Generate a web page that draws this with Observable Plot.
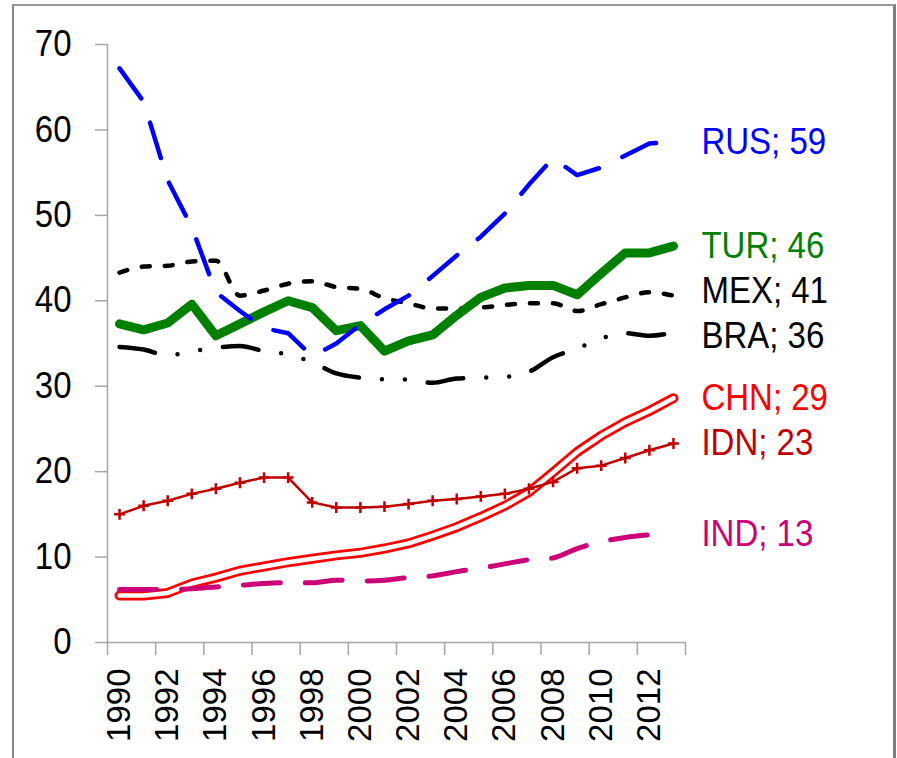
<!DOCTYPE html>
<html>
<head>
<meta charset="utf-8">
<script src="https://cdn.jsdelivr.net/npm/d3@7"></script>
<script src="https://cdn.jsdelivr.net/npm/@observablehq/plot@0.6"></script>
<style>
  html, body { margin: 0; padding: 0; background: #fff; overflow: hidden; }
  #wrap { position: relative; width: 897px; height: 758px; }
  #border { position: absolute; left: 12px; top: 4px; width: 879px; height: 800px;
    border-left: 2px solid #888; border-top: 2px solid #999; border-right: 3px solid #808080; }
  #chart { position: absolute; left: 0; top: 0; }
</style>
</head>
<body>
<div id="wrap"><div id="border"></div><div id="chart"></div></div>
<script>
const years = [1990,1991,1992,1993,1994,1995,1996,1997,1998,1999,2000,2001,2002,2003,2004,2005,2006,2007,2008,2009,2010,2011,2012,2013];
const yTicks = [0,10,20,30,40,50,60,70];
const xTickLabels = [1990,1992,1994,1996,1998,2000,2002,2004,2006,2008,2010,2012];

const rus = [67.2,63.3,54.1,48.6,41.0,38.8,36.8,36.2,33.5,35.0,37.2,39.0,40.6,42.9,45.3,47.5,50.2,53.6,56.7,54.7,55.6,57.0,58.4,58.6];
const tur = [37.3,36.6,37.4,39.6,35.9,37.3,38.7,40.0,39.2,36.5,37.1,34.1,35.3,36.0,38.3,40.4,41.5,41.8,41.8,40.7,43.2,45.6,45.6,46.4];
const mex = [43.3,44.0,44.1,44.6,44.7,40.6,41.2,42.0,42.3,41.6,41.4,40.3,39.7,39.1,39.1,39.2,39.5,39.7,39.7,38.8,39.6,40.4,41.0,40.6];
const bra = [34.6,34.3,33.6,34.1,34.5,34.7,34.1,33.7,32.8,31.5,31.0,30.8,30.8,30.4,30.9,31.0,31.1,31.7,33.4,34.4,35.6,36.2,35.9,36.3];
const chn = [5.5,5.5,5.8,6.9,7.6,8.4,8.9,9.4,9.8,10.2,10.5,11.0,11.6,12.5,13.5,14.7,16.0,17.6,19.9,22.3,24.2,25.8,27.1,28.6];
const idn = [15.0,16.0,16.6,17.4,18.0,18.7,19.3,19.3,16.4,15.8,15.8,15.9,16.2,16.6,16.8,17.1,17.4,18.0,18.8,20.4,20.7,21.6,22.5,23.3];
const ind = [6.2,6.2,6.2,6.3,6.5,6.7,6.9,7.0,7.0,7.3,7.2,7.3,7.6,7.8,8.3,8.7,9.2,9.7,9.9,11.0,11.8,12.3,12.6];

const names = ["RUS","TUR","MEX","BRA","CHN","IDN","IND"];
const seriesList = [rus, tur, mex, bra, chn, idn, ind];
const colors = ["#0000ff","#008000","#000000","#000000","#ff0000","#c00000","#cc0077"];
// small label separation (in data units) so MEX and BRA labels do not collide
const labelNudge = [0, 0, 0.45, -0.45, 0, 0, 0];

const rows = s => s.map((v, i) => ({year: years[i], value: v}));
const bounds = years.filter((y, i) => i % 2 === 0).map(y => y - 0.5).concat([years[years.length - 1] + 0.5]);
const labelRows = names.map((n, i) => {
  const s = seriesList[i];
  const last = s[s.length - 1];
  return {name: n, year: years[years.length - 1], value: last + labelNudge[i], text: `${n}; ${Math.round(last)}`, color: colors[i]};
});

const axisGray = "#a6a6a6";
const font = "'Liberation Sans', Arial, sans-serif";

const plot = Plot.plot({
  width: 897,
  height: 758,
  marginLeft: 107,
  marginRight: 212,
  marginTop: 44,
  marginBottom: 116,
  style: {fontFamily: font, background: "transparent", overflow: "visible"},
  x: {domain: [years[0] - 0.5, years[years.length - 1] + 0.5]},
  y: {domain: [0, 70]},
  marks: [
    Plot.ruleX([years[0] - 0.5], {stroke: axisGray, strokeWidth: 1.5}),
    Plot.ruleY([0], {stroke: axisGray, strokeWidth: 1.5}),
    Plot.axisY({ticks: yTicks, tickSize: 12, tickPadding: 24, fontSize: 33, stroke: axisGray, strokeWidth: 1.5, color: "black", label: null}),
    Plot.axisX(bounds, {tickSize: 13, tickFormat: () => "", stroke: axisGray, strokeWidth: 1.5, label: null}),
    Plot.axisX(xTickLabels, {tickSize: 0, tickPadding: 26, tickRotate: -90, fontSize: 33, tickFormat: d => String(d), color: "black", label: null}),
    // CHN double line
    Plot.line(rows(chn), {x: "year", y: "value", stroke: colors[4], strokeWidth: 10, strokeLinecap: "round", strokeLinejoin: "round"}),
    Plot.line(rows(chn), {x: "year", y: "value", stroke: "white", strokeWidth: 4.5, strokeLinecap: "round", strokeLinejoin: "round"}),
    // IDN
    Plot.line(rows(idn), {x: "year", y: "value", stroke: colors[5], strokeWidth: 2.5, strokeLinejoin: "round"}),
    Plot.dot(rows(idn), {x: "year", y: "value", symbol: "plus", r: 3.6, stroke: colors[5], strokeWidth: 2.5}),
    // IND
    Plot.line(rows(ind), {x: "year", y: "value", stroke: colors[6], strokeWidth: 5, strokeDasharray: "37,25", strokeLinecap: "round", curve: "monotone-x"}),
    // BRA
    Plot.line(rows(bra), {x: "year", y: "value", stroke: colors[3], strokeWidth: 4.5, strokeDasharray: "36,23,0,23,0,23", strokeLinecap: "round", curve: "monotone-x"}),
    // MEX
    Plot.line(rows(mex), {x: "year", y: "value", stroke: colors[2], strokeWidth: 4.5, strokeDasharray: "8,15", strokeLinecap: "round", curve: "monotone-x"}),
    // TUR
    Plot.line(rows(tur), {x: "year", y: "value", stroke: colors[1], strokeWidth: 9, strokeLinecap: "round", strokeLinejoin: "round"}),
    // RUS
    Plot.line(rows(rus), {x: "year", y: "value", stroke: colors[0], strokeWidth: 4.5, strokeDasharray: "37,26", strokeLinecap: "round", strokeLinejoin: "round"}),
    // labels
    Plot.text(labelRows, {x: "year", y: "value", text: "text", fill: "color", dx: 28, textAnchor: "start", fontSize: 33})
  ]
});

// stretch horizontal texts vertically to match the reference's tall glyphs
plot.querySelectorAll("text").forEach(t => {
  const tr = t.getAttribute("transform");
  if (tr && tr.includes("rotate")) return;
  if (tr) {
    t.setAttribute("transform", tr + " scale(1,1.1)");
  } else {
    const x = t.getAttribute("x") || 0, y = t.getAttribute("y") || 0;
    t.removeAttribute("x"); t.removeAttribute("y");
    t.setAttribute("transform", `translate(${x},${y}) scale(1,1.1)`);
  }
});

document.getElementById("chart").appendChild(plot);
</script>
</body>
</html>
